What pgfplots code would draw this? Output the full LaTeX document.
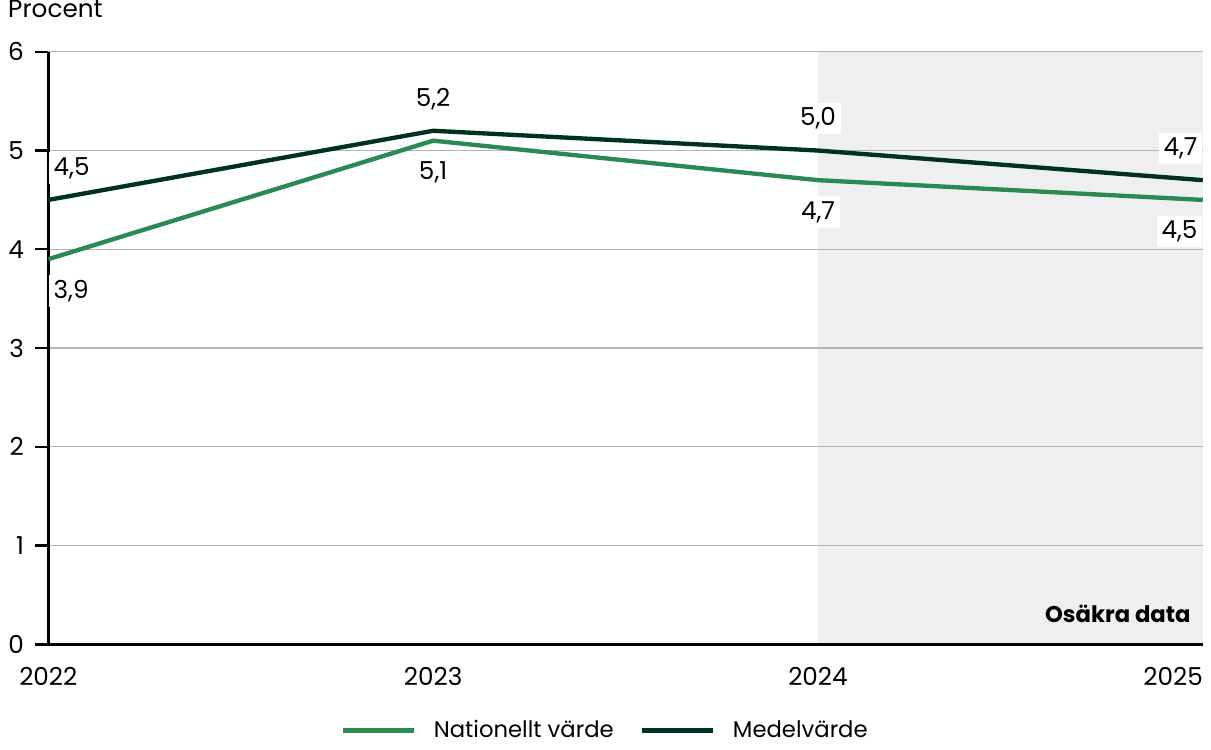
\documentclass[border=0pt]{standalone}
\usepackage{pgfplots}
\pgfplotsset{compat=1.18}
\usepackage{fontspec}
\setmainfont{Poppins}
\definecolor{natgreen}{RGB}{42,138,82}
\definecolor{meddark}{RGB}{0,50,30}
\definecolor{bandgray}{RGB}{239,239,239}
\definecolor{gridgray}{RGB}{180,180,180}

\pgfplotsset{
  lbl/.style 2 args={
    draw=none, forget plot,
    nodes near coords,
    point meta=y,
    every node near coord/.append style={
        anchor=#1, fill=white, inner sep=2.5pt, yshift=#2,
        font=\fontsize{12.5pt}{15pt}\selectfont, text=black,
        /pgf/number format/fixed, /pgf/number format/fixed zerofill,
        /pgf/number format/precision=1, /pgf/number format/use comma,
        /pgf/number format/assume math mode=true},
  }
}

\begin{document}
\fontsize{12.5pt}{15pt}\selectfont
\begin{tikzpicture}
\begin{axis}[
    set layers,
    scale only axis,
    width=584.5pt, height=300pt,
    xmin=2022, xmax=2025, ymin=0, ymax=6,
    axis x line=bottom, axis y line=left,
    axis line style={line width=1.2pt, -},
    xtick={2022,2023,2024,2025},
    xticklabels={2022,2023,2024,\makebox[0pt][r]{2025}},
    x tick label style={anchor=north, yshift=-0.5pt},
    major x tick style={draw=none},
    ytick={0,1,...,6},
    tick align=outside,
    major tick length=7pt,
    y tick style={line width=1.2pt, black},
    y tick label style={xshift=-1pt},
    ymajorgrids,
    grid style={gridgray, line width=0.6pt},
    tick label style={font=\fontsize{12.5pt}{15pt}\selectfont},
    /pgf/number format/assume math mode=true,
    /pgf/number format/use comma,
    /pgf/number format/1000 sep={},
    legend style={at={(0.483,-0.146)}, anchor=center, draw=none,
        legend columns=-1, font=\fontsize{11.5pt}{14pt}\selectfont,
        /tikz/every even column/.append style={column sep=11pt},
        /tikz/every odd column/.append style={column sep=7pt}},
    legend image code/.code={\draw[line width=2.4pt] (0pt,0pt) -- (36pt,0pt);},
]
\begin{pgfonlayer}{axis background}
\fill[bandgray] (axis cs:2024,0) rectangle (axis cs:2025,6);
\end{pgfonlayer}
% Nationellt värde
\addplot[natgreen, line width=2.2pt]
    coordinates {(2022,3.9) (2023,5.1) (2024,4.7) (2025,4.5)};
% Medelvärde
\addplot[meddark, line width=2.2pt]
    coordinates {(2022,4.5) (2023,5.2) (2024,5.0) (2025,4.7)};
\legend{Nationellt värde, Medelvärde}
% value labels
\addplot[lbl={north west}{-8pt}] coordinates {(2022,3.9)};
\addplot[lbl={north}{-8pt}] coordinates {(2023,5.1) (2024,4.7)};
\addplot[lbl={north east}{-8pt}] coordinates {(2025,4.5)};
\addplot[lbl={south west}{8pt}] coordinates {(2022,4.5)};
\addplot[lbl={south}{8pt}] coordinates {(2023,5.2) (2024,5.0)};
\addplot[lbl={south east}{8pt}] coordinates {(2025,4.7)};
\node[anchor=base east, inner sep=0pt, font=\bfseries\fontsize{11.5pt}{14pt}\selectfont]
    at ([xshift=-6pt, yshift=11pt]rel axis cs:1,0) {Osäkra data};
\coordinate (ptop) at (rel axis cs:0,1);
\end{axis}
\node[anchor=base west, inner sep=0pt]
    at ([xshift=-20.5pt, yshift=17.5pt]ptop) {Procent};
\end{tikzpicture}
\end{document}
